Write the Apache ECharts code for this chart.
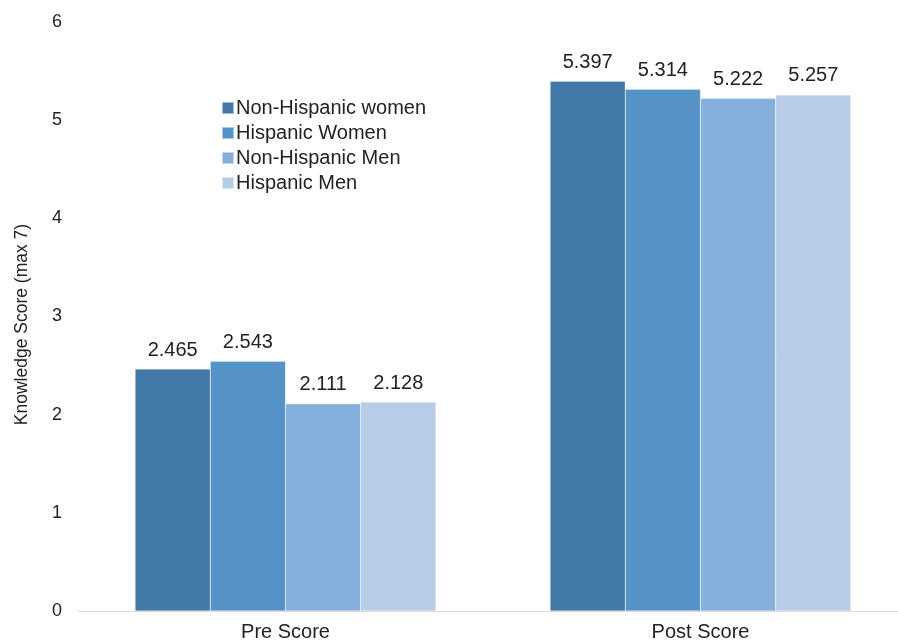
<!DOCTYPE html>
<html><head><meta charset="utf-8">
<script src="https://cdn.jsdelivr.net/npm/echarts@6/dist/echarts.min.js"></script>
<style>html,body{margin:0;padding:0;background:#fff}#c{width:898px;height:644px}</style>
</head><body><div id="c"></div>
<script>
const categories = ['Pre Score', 'Post Score'];
const seriesNames = ['Non-Hispanic women', 'Hispanic Women', 'Non-Hispanic Men', 'Hispanic Men'];
const nonHispanicWomen = [2.465, 5.397];
const hispanicWomen = [2.543, 5.314];
const nonHispanicMen = [2.111, 5.222];
const hispanicMen = [2.128, 5.257];
const yTicks = [0, 1, 2, 3, 4, 5, 6];
const colors = ['#4379a7', '#5592c8', '#84afdc', '#b7cce6'];
const values = [nonHispanicWomen, hispanicWomen, nonHispanicMen, hispanicMen];

const chart = echarts.init(document.getElementById('c'));
const font = 'Liberation Sans, Arial, sans-serif';
chart.setOption({
  animation: false,
  textStyle: { fontFamily: font },
  legend: {
    orient: 'vertical', left: 216, top: 93, itemWidth: 12, itemHeight: 12, itemGap: 5,
    icon: 'rect',
    textStyle: { fontSize: 20, color: '#222', fontFamily: font, padding: [0, 0, 0, -3] }
  },
  grid: { left: 78, top: 22, right: -10, bottom: 33, containLabel: false, outerBoundsMode: 'none' },
  xAxis: {
    type: 'category', data: categories,
    axisLine: { lineStyle: { color: '#d9d9d9', width: 1 } },
    axisTick: { show: false },
    axisLabel: { fontSize: 20, color: '#222', margin: 11, fontFamily: font }
  },
  yAxis: {
    type: 'value', min: yTicks[0], max: yTicks[yTicks.length - 1], interval: 1,
    name: 'Knowledge Score (max 7)', nameLocation: 'middle', nameGap: 47, nameRotate: 90,
    nameTextStyle: { fontSize: 17.5, color: '#222', fontFamily: font, padding: [0, 16, 0, 0] },
    axisLine: { show: false }, axisTick: { show: false }, splitLine: { show: false },
    axisLabel: { fontSize: 18, color: '#222', margin: 16, fontFamily: font }
  },
  series: seriesNames.map((n, i) => ({
    name: n, type: 'bar', data: values[i],
    barGap: '0%', barCategoryGap: '27.5%',
    itemStyle: { color: colors[i], borderColor: 'rgba(255,255,255,0.5)', borderWidth: 0.5 },
    label: { show: true, position: 'top', distance: 9, fontSize: 20, color: '#222', fontFamily: font,
      formatter: p => p.value.toFixed(3) }
  }))
});
</script></body></html>
